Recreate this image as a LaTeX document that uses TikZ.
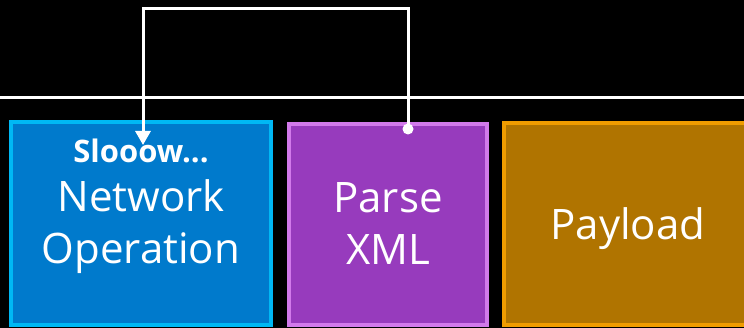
\documentclass[tikz,border=0pt]{standalone}
\usepackage{fontspec}
\setmainfont{Open Sans}
\usetikzlibrary{arrows.meta, positioning}
\definecolor{netfill}{HTML}{007ACC}
\definecolor{netline}{HTML}{00B8F4}
\definecolor{xmlfill}{HTML}{973BBD}
\definecolor{xmlline}{HTML}{D27AEB}
\definecolor{payfill}{HTML}{B07400}
\definecolor{payline}{HTML}{F09C00}

\begin{document}
\begin{tikzpicture}[
    x=1pt, y=-1pt,
    every node/.style={inner sep=0pt, outer sep=0pt},
    stage/.style={rectangle, line width=3.5pt},
    txt/.style={text=white, font=\fontsize{42}{52}\selectfont, anchor=base},
    hint/.style={text=white, font=\fontsize{31}{36}\selectfont\bfseries, anchor=base},
    wire/.style={white, line width=3pt},
]
\useasboundingbox (0,0) rectangle (744,328);
\fill[black] (0,0) rectangle (744,328);
\clip (0,0) rectangle (744,328);

% ---------------- the rule
\coordinate (ruleL) at (0,97.5);
\coordinate (ruleR) at (744,97.5);
\draw[wire] (ruleL) -- (ruleR);

% ---------------- the three stages
\node[stage, draw=netline, fill=netfill, minimum width=260pt, minimum height=203pt]
    (net) at (141,223.5) {};
\node[stage, draw=xmlline, fill=xmlfill, minimum width=198pt, minimum height=201pt]
    (xml) at (388,224.5) {};
\node[stage, draw=payline, fill=payfill, minimum width=248pt, minimum height=202pt]
    (pay) at (628,224) {};

\node[hint] (slow) at (141,163) {Slooow...};
\node[txt] (netA) at (141,212) {Network};
\node[txt] (netB) at (141,264) {Operation};
\node[txt] (xmlA) at (388,213) {Parse};
\node[txt] (xmlB) at (388,265) {XML};
\node[txt] (payA) at (628,240) {Payload};

% ---------------- the loop back
\coordinate (dot) at (408,129);
\coordinate (tip) at (143,145);
\fill[white] (dot) circle (5.5pt);
\draw[wire, -{Triangle[length=14pt, width=15pt]}] (dot) |- (143,9) -- (tip);
\end{tikzpicture}
\end{document}
